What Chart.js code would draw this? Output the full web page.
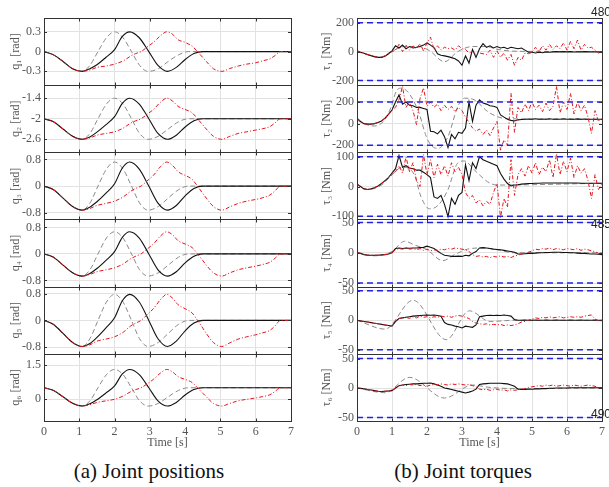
<!DOCTYPE html>
<html>
<head>
<meta charset="utf-8">
<script src="https://cdn.jsdelivr.net/npm/chart.js@4.4.0/dist/chart.umd.min.js"></script>
<style>
  html, body { margin: 0; padding: 0; background: #fff; overflow: hidden; width: 609px; height: 487px; }
  #wrap { position: relative; width: 609px; height: 487px; }
  canvas { position: absolute; top: 0; }
  #left { left: 0; }
  #right { left: 300px; }
  .cap { position: absolute; font-family: "Liberation Serif", serif; font-size: 21px; color: #111; white-space: nowrap; transform: translateX(-50%); }
  .ln { position: absolute; left: 591px; font-family: "Liberation Sans", sans-serif; font-size: 12px; line-height: 12px; color: #222; }
</style>
</head>
<body>
<div id="wrap">
  <canvas id="left" width="300" height="451"></canvas>
  <canvas id="right" width="309" height="451"></canvas>
  <div class="cap" style="left:149px; top:459px">(a) Joint positions</div>
  <div class="cap" style="left:463px; top:459px">(b) Joint torques</div>
  <div class="ln" style="top:6px">480</div>
  <div class="ln" style="top:218px">485</div>
  <div class="ln" style="top:408px">490</div>
</div>
<script>
// ---- joint positions (left column) ----
const qGrayTime = [0, 0.27, 0.54, 0.81, 1.08, 1.3, 1.53, 1.77, 2.0, 2.24, 2.48, 2.71, 2.95, 3.24, 3.52, 3.81, 4.1, 7];
const qBlackTime = [0, 0.27, 0.54, 0.81, 1.08, 1.3, 1.5, 1.75, 2.0, 2.22, 2.43, 2.7, 2.97, 3.23, 3.5, 3.75, 4.0, 4.25, 4.5, 7];
const qRedTime = [0, 0.27, 0.54, 0.81, 1.08, 1.3, 1.5, 1.75, 2.0, 2.25, 2.45, 2.6, 2.75, 2.95, 3.1, 3.3, 3.48, 3.65, 3.8, 4.0,
  4.2, 4.35, 4.5, 4.6, 4.8, 5.04, 5.25, 5.5, 5.75, 6.0, 6.2, 6.4, 6.55, 6.7, 7];

const q1Gray = [0, -0.05, -0.15, -0.26, -0.3, -0.21, 0, 0.21, 0.3, 0.21, 0, -0.21, -0.3, -0.26, -0.15, -0.05, 0, 0];
const q1Black = [0, -0.05, -0.15, -0.26, -0.3, -0.26, -0.2, -0.09, 0.03, 0.23, 0.3, 0.21, 0, -0.21, -0.3, -0.24, -0.12, -0.03, 0, 0];
const q1Red = [0, -0.05, -0.15, -0.26, -0.3, -0.28, -0.24, -0.22, -0.19, -0.14, -0.07, -0.03, 0, 0.08, 0.14, 0.24, 0.3, 0.26, 0.18, 0.14,
  0.08, 0, -0.09, -0.15, -0.26, -0.3, -0.26, -0.22, -0.19, -0.17, -0.14, -0.11, -0.06, 0, 0];

const q2Gray = [-2, -2.09, -2.3, -2.51, -2.6, -2.43, -2, -1.57, -1.4, -1.57, -2, -2.43, -2.6, -2.51, -2.3, -2.09, -2, -2];
const q2Black = [-2, -2.09, -2.3, -2.51, -2.6, -2.53, -2.39, -2.18, -1.94, -1.55, -1.4, -1.57, -2, -2.43, -2.6, -2.48, -2.24, -2.06, -2, -2];
const q2Red = [-2, -2.09, -2.3, -2.51, -2.6, -2.56, -2.48, -2.43, -2.38, -2.27, -2.13, -2.06, -2, -1.85, -1.73, -1.52, -1.4, -1.49, -1.64, -1.73,
  -1.83, -2, -2.18, -2.3, -2.51, -2.6, -2.52, -2.43, -2.38, -2.33, -2.29, -2.23, -2.12, -2, -2];

const q3Gray = [0, -0.11, -0.36, -0.61, -0.72, -0.51, 0, 0.51, 0.72, 0.51, 0, -0.51, -0.72, -0.61, -0.36, -0.11, 0, 0];
const q3Black = [0, -0.11, -0.36, -0.61, -0.72, -0.63, -0.47, -0.22, 0.07, 0.54, 0.72, 0.51, 0, -0.51, -0.72, -0.58, -0.29, -0.07, 0, 0];
const q3Red = [0, -0.11, -0.36, -0.61, -0.72, -0.67, -0.58, -0.52, -0.45, -0.32, -0.16, -0.07, 0, 0.18, 0.32, 0.58, 0.72, 0.61, 0.43, 0.32,
  0.2, 0, -0.22, -0.36, -0.61, -0.72, -0.63, -0.52, -0.45, -0.4, -0.35, -0.27, -0.14, 0, 0];

const q4Gray = [0, -0.1, -0.34, -0.57, -0.67, -0.48, 0, 0.48, 0.67, 0.48, 0, -0.48, -0.67, -0.57, -0.34, -0.1, 0, 0];
const q4Black = [0, -0.1, -0.34, -0.57, -0.67, -0.59, -0.44, -0.2, 0.07, 0.5, 0.67, 0.48, 0, -0.48, -0.67, -0.54, -0.27, -0.07, 0, 0];
const q4Red = [0, -0.1, -0.34, -0.57, -0.67, -0.62, -0.54, -0.48, -0.42, -0.3, -0.15, -0.07, 0, 0.17, 0.3, 0.54, 0.67, 0.57, 0.4, 0.3,
  0.19, 0, -0.2, -0.34, -0.57, -0.67, -0.58, -0.48, -0.42, -0.37, -0.32, -0.25, -0.13, 0, 0];

const q5Gray = [0, -0.12, -0.39, -0.66, -0.78, -0.55, 0, 0.55, 0.78, 0.55, 0, -0.55, -0.78, -0.66, -0.39, -0.12, 0, 0];
const q5Black = [0, -0.12, -0.39, -0.66, -0.78, -0.69, -0.51, -0.23, 0.08, 0.59, 0.78, 0.55, 0, -0.55, -0.78, -0.62, -0.31, -0.08, 0, 0];
const q5Red = [0, -0.12, -0.39, -0.66, -0.78, -0.73, -0.62, -0.56, -0.49, -0.35, -0.17, -0.08, 0, 0.2, 0.35, 0.62, 0.78, 0.66, 0.47, 0.35,
  0.22, 0, -0.23, -0.39, -0.66, -0.78, -0.68, -0.56, -0.49, -0.43, -0.37, -0.3, -0.16, 0, 0];

const q6Gray = [0.5, 0.38, 0.1, -0.19, -0.31, -0.08, 0.5, 1.08, 1.31, 1.08, 0.5, -0.08, -0.31, -0.19, 0.1, 0.38, 0.5, 0.5];
const q6Black = [0.5, 0.38, 0.1, -0.19, -0.31, -0.21, -0.03, 0.26, 0.58, 1.11, 1.31, 1.08, 0.5, -0.08, -0.31, -0.15, 0.18, 0.42, 0.5, 0.5];
const q6Red = [0.5, 0.38, 0.1, -0.19, -0.31, -0.25, -0.15, -0.08, -0.01, 0.14, 0.32, 0.42, 0.5, 0.7, 0.87, 1.15, 1.31, 1.19, 0.99, 0.87,
  0.73, 0.5, 0.26, 0.1, -0.19, -0.31, -0.2, -0.08, -0.01, 0.05, 0.11, 0.19, 0.34, 0.5, 0.5];

const qLabels = ["q\u2081 [rad]", "q\u2082 [rad]", "q\u2083 [rad]", "q\u2084 [rad]", "q\u2085 [rad]", "q\u2086 [rad]"];
const qTicks = [[-0.3, 0, 0.3], [-2.6, -2, -1.4], [-0.8, 0, 0.8], [-0.8, 0, 0.8], [-0.8, 0, 0.8], [0, 1.5]];
const qRanges = [[-0.51, 0.51], [-2.98, -1.02], [-1, 1.01], [-0.99, 1.04], [-1, 1.01], [-0.97, 2]];

// ---- joint torques (right column) ----
const tauTime = [0, 0.1, 0.2, 0.3, 0.4, 0.5, 0.6, 0.7, 0.8, 0.9,
  1, 1.1, 1.2, 1.3, 1.4, 1.5, 1.6, 1.7, 1.8, 1.9,
  2, 2.1, 2.2, 2.3, 2.4, 2.5, 2.6, 2.7, 2.8, 2.9,
  3, 3.1, 3.2, 3.3, 3.4, 3.5, 3.6, 3.7, 3.8, 3.9,
  4, 4.1, 4.2, 4.3, 4.4, 4.5, 4.6, 4.7, 4.8, 4.9,
  5, 5.1, 5.2, 5.3, 5.4, 5.5, 5.6, 5.7, 5.8, 5.9,
  6, 6.1, 6.2, 6.3, 6.4, 6.5, 6.6, 6.7, 6.8, 6.9, 7];

const tau1Black = [5, -5, -12, -20, -28, -35, -40, -40, -32, -15,
  5, 40, 25, 45, 20, 35, 25, 30, 35, 45,
  60, 45, 28, -15, -25, -30, -35, -42, -50, -65,
  -95, -30, -80, 15, -40, 20, 55, 30, 40, 25,
  35, 25, 30, 20, 30, 25, 20, 25, 10, -5,
  -5, -10, -5, -8, -3, -5, -2, 0, -2, 0,
  -2, 0, -3, -1, -2, 0, -2, -1, -3, -2, -3];
const tau1Red = [5, -5, -12, -20, -28, -35, -40, -40, -30, -15,
  0, 10, 50, 0, 45, 10, 40, 20, 55, 5,
  60, 100, 15, 40, 10, 30, 20, 25, 10, 40,
  20, 15, -10, 0, -20, -10, -15, -20, 10, -40,
  5, -40, -10, -60, -20, -95, -40, -60, -10, -15,
  -5, 30, 0, 40, 10, 50, 15, 40, 20, 60,
  10, 70, 20, 80, 10, 50, 25, 30, 10, -10, 0];
const tau1GrayTime = [0, 0.65, 0.98, 1.36, 1.74, 2.05, 2.5, 2.88, 3.3, 3.7, 4.0, 4.6, 7];
const tau1Gray = [0, -40, 0, 35, 35, 10, -70, 0, 35, 35, 16, 2, 0];

const tau2Black = [50, 20, 0, -5, -5, 0, 10, 25, 50, 85,
  125, 200, 265, 180, 200, 170, 165, 150, 150, 140,
  130, -70, -75, -95, -60, -120, -220, -100, -140, -80,
  -90, -40, 200, 20, 170, 220, 190, 180, 165, 160,
  150, 80, 60, 40, 30, 25, 35, 38, 40, 42,
  40, 45, 40, 42, 40, 45, 40, 43, 40, 45,
  40, 42, 40, 44, 40, 42, 40, 40, 40, 40, 40];
const tau2Red = [50, 20, 0, -5, -5, 0, 10, 25, 50, 85,
  125, 150, 220, 344, 150, 200, 120, -10, 230, 330,
  160, 200, 150, 180, 120, 170, 130, 160, 110, 150,
  120, 60, 10, -40, -70, -50, -100, -60, -110, -40,
  20, -245, -150, -200, 280, -80, 150, 100, 180, 120,
  200, 130, 170, 110, 190, 120, 160, 344, 100, 200,
  130, 280, 90, 200, 120, 170, 60, -90, 120, 20, 50];
const tau2GrayTime = [0, 0.3, 0.5, 0.79, 0.98, 1.12, 1.27, 1.74, 1.98, 2.12, 2.31, 2.6, 2.88, 3.07, 3.35, 3.73, 4.0, 4.3, 7];
const tau2Gray = [34, -12, -22, 34, 158, 298, 328, 127, -120, -200, -229, -120, 158, 235, 220, 112, 65, 45, 40];

const tau3Black = [8, 0, -8, -10, -8, -4, 2, 10, 20, 30,
  45, 60, 104, 65, 70, 62, 60, 55, 55, 48,
  40, 30, -35, -40, -30, -60, -101, -40, -60, -30,
  -20, 73, 20, 80, 60, 101, 90, 85, 80, 75,
  70, 44, 25, 10, 2, 5, 6, 8, 9, 10,
  10, 11, 11, 12, 12, 12, 12, 12, 12, 12,
  12, 12, 12, 12, 11, 11, 11, 11, 11, 11, 11];
const tau3Red = [8, 0, -8, -10, -8, -4, 2, 10, 20, 30,
  45, 50, 70, 45, 100, 50, 80, 20, 0, 107,
  40, 90, 30, 75, 40, 70, 35, 80, 50, 65,
  40, -20, -40, -30, -55, -45, -65, -50, -60, -20,
  10, -104, -40, -70, 90, -30, 40, 60, 35, 70,
  45, 80, 40, 65, 50, 90, 30, 110, 40, 85,
  50, 95, 30, 70, 45, 60, 20, -40, 40, -10, 10];
const tau3GrayTime = [0, 0.3, 0.7, 0.9, 1.3, 1.64, 1.83, 2.07, 2.31, 2.59, 2.88, 3.07, 3.35, 3.73, 4.0, 7];
const tau3Gray = [8, -10, 5, 27, 65, 39, -35, -75, -64, -13, 79, 86, 56, 16, 5, 11];

const tau4Black = [0, -1, -3, -4, -4, -4, -4, -3.5, -3, -2,
  0, 7, 8, 7, 8, 7.5, 8, 8, 8.5, 9,
  11, 9, 7, 3, -1, -4, -5, -6, -6, -5.5,
  -6, -4, -5, -1, 2, 8, 8.5, 8, 7, 6,
  5.5, 5, 4, 3, 2, 1, -2, -2, -1.5, -1,
  -1, -0.5, 0, 0, 0.5, 0.5, 1, 1, 1, 0.5,
  0.5, 0, 0, -0.5, -1, -1, -1.5, -2, -2, -2.5, -3];
const tau4Red = [0, -1, -3, -4, -4, -4, -4, -3.5, -3, -2,
  0, 5, 7, 6, 8, 6, 7, 5, 7, 4,
  6, 3, 5, 4, 6, 5, 7, 6, 8, 7,
  6, 5, 2, -3, -6, -5, -7, -6, -8, -6,
  -7, -5, -7, -6, -8, -5, -4, -2, -1, 1,
  3, 6, 5, 7, 6, 8, 5, 7, 6, 5,
  7, 6, 5, 7, 4, 6, 5, 3, 2, -1, -2];
const tau4GrayTime = [0, 0.5, 1.0, 1.36, 1.64, 2.0, 2.45, 2.79, 3.16, 3.6, 4.0, 4.5, 7];
const tau4Gray = [0, -5, 2, 19, 13, 5, -13, -3, 6, 8, 5, 0, 0];

const tau5Black = [0, -1, -2, -3, -4, -5, -6, -7, -8, -9,
  -10, -2, 3, 4, 5, 6, 7, 7.5, 8, 8.5,
  9, 8.5, 9, 8, 7, -4, -7, -8, -10, -11,
  -13, -10, -11, -12, -8, 6, 7, 8, 8.5, 8,
  8.5, 8, 9, 8, 7, 1, 0, 0, 0.5, 0,
  0, 0.5, 0, 0, 0.5, 0, 0, 0.5, 0, 0,
  0, 0.5, 0, 0, 0.5, 0, 0, 0, 0.5, 0, 0];
const tau5Red = [0, -1, -2, -3, -4, -5, -6, -7, -8, -9,
  -10, -3, 3, 4, 5, 3, 6, 4, 7, 5,
  6, 4, 6, 5, 7, 6, 7, 5, 7, 8,
  7, 5, 3, -2, -5, -6, -7, -6, -8, -7,
  -8, -7, -9, -8, -9, -8, -6, -3, -2, 0,
  2, 4, 3, 5, 4, 6, 4, 5, 6, 4,
  5, 6, 5, 6, 5, 7, 8, 9, 2, -1, -1];
const tau5GrayTime = [0, 0.8, 1.6, 2.55, 3.21, 3.8, 4.5, 7];
const tau5Gray = [0, -15, 34, -33, 16, -2, 0, 0];

const tau6Black = [0, -0.5, -1.5, -2.5, -3.5, -4.5, -5.5, -6, -5.5, -5,
  -4.5, 0, 4, 5, 6, 6.5, 7, 7, 7.5, 8,
  8, 8.5, 7, 5, 3, 0, -1, -2.5, -4, -5.5,
  -7, -8.5, -7, -5, -2, 6, 7, 7.5, 8, 8,
  8, 8, 7.5, 7, 5, 3, -2, -2.5, -2.5, -2,
  -2, -1.5, -1.5, -1, -1, -0.5, -0.5, 0, 0, 0,
  0, 0.5, 0.5, 0.5, 0.5, 0.5, 0.5, 0.5, 0.5, 0.5, 0.5];
const tau6Red = [0, -0.5, -1.5, -2.5, -3.5, -4.5, -5.5, -6, -5.5, -5,
  -4.5, 0, 3, 5, 4, 6, 5, 6, 4, 5,
  3, 5, 6, 5, 7, 6, 5, 7, 6, 7,
  6, 5, 6, 4, 2, -2, -3, -2, -4, -3,
  -2, -4, -3, -5, -3, -4, -3, -2, -1, 1,
  2, 3, 4, 3, 5, 4, 5, 3, 4, 5,
  4, 3, 5, 4, 3, 4, 5, 4, 3, 0, 0];
const tau6GrayTime = [0, 0.8, 1.5, 2.5, 3.3, 3.8, 4.6, 7];
const tau6Gray = [0, -8, 18, -17, 5, 1, -1, 0];

const tauLimits = [200, 200, 100, 50, 50, 50];
const tauLabels = ["\u03c4\u2081 [Nm]", "\u03c4\u2082 [Nm]", "\u03c4\u2083 [Nm]", "\u03c4\u2084 [Nm]", "\u03c4\u2085 [Nm]", "\u03c4\u2086 [Nm]"];
const tauTicks = [[-200, 0, 200], [-200, 0, 200], [-100, 0, 100], [-50, 0, 50], [-50, 0, 50], [-50, 0, 50]];
const tauRanges = [[-233, 233], [-265, 355], [-111, 115], [-56, 55], [-57, 57], [-56, 58]];

const timeTicks = [0, 1, 2, 3, 4, 5, 6, 7];

// ---- helpers ----
const serif = "'Liberation Serif', 'Times New Roman', serif";
const txt = "#555";

function pts(ts, vs) {
  return ts.map((t, i) => ({ x: t, y: vs[i] }));
}

function redSet(data, axis, smooth) {
  return { data: data, yAxisID: axis, borderColor: "#e3161d", borderWidth: 1, borderDash: [4, 2, 1, 2],
    cubicInterpolationMode: smooth ? "monotone" : "default", tension: 0 };
}
function blackSet(data, axis, smooth) {
  return { data: data, yAxisID: axis, borderColor: "#111", borderWidth: 1.1,
    cubicInterpolationMode: smooth ? "monotone" : "default", tension: 0 };
}
function graySet(data, axis) {
  return { data: data, yAxisID: axis, borderColor: "#8a8a8a", borderWidth: 1, borderDash: [5, 3],
    cubicInterpolationMode: "monotone" };
}
function limitSet(v, axis) {
  return { data: pts([0, 7], [v, v]), yAxisID: axis, borderColor: "#2323e6", borderWidth: 1.5, borderDash: [6, 4] };
}

function yAxis(i, rng, ticks, label, w, titlePad) {
  return {
    type: "linear", position: "left", stack: "col", stackWeight: 1, weight: 6 - i,
    min: rng[0], max: rng[1],
    afterBuildTicks: s => { s.ticks = ticks.map(v => ({ value: v })); },
    afterFit: s => { s.width = w; },
    grid: { color: "#e2e2e2", drawTicks: false },
    border: { display: false },
    ticks: { font: { family: serif, size: 12 }, color: txt, padding: 3, callback: v => String(v) },
    title: { display: true, text: label, font: { family: serif, size: 12 }, color: txt, padding: titlePad }
  };
}

function xAxis() {
  return {
    type: "linear", min: 0, max: 7,
    afterBuildTicks: s => { s.ticks = timeTicks.map(v => ({ value: v })); },
    afterFit: s => { s.height = 30; },
    grid: { color: "#e2e2e2", drawTicks: false },
    border: { display: false },
    ticks: { font: { family: serif, size: 12 }, color: txt, padding: 4 },
    title: { display: true, text: "Time [s]", font: { family: serif, size: 12 }, color: txt, padding: { top: 0, bottom: 1 } }
  };
}

// draws the box around each subplot and the small inward tick marks
const panelBox = {
  id: "panelBox",
  afterDraw(chart) {
    const ctx = chart.ctx;
    const a = chart.chartArea;
    const xs = chart.scales.x;
    ctx.save();
    ctx.strokeStyle = "#333";
    ctx.lineWidth = 1;
    Object.values(chart.scales).forEach(s => {
      if (s.axis !== "y") return;
      const top = Math.round(s.top) + 0.5;
      const bot = Math.round(s.bottom) + 0.5;
      ctx.strokeRect(Math.round(a.left) + 0.5, top, Math.round(a.right - a.left), bot - top);
      ctx.beginPath();
      timeTicks.forEach(t => {
        const px = Math.round(xs.getPixelForValue(t)) + 0.5;
        ctx.moveTo(px, top); ctx.lineTo(px, top + 3);
        ctx.moveTo(px, bot); ctx.lineTo(px, bot - 3);
      });
      s.ticks.forEach(tk => {
        const py = Math.round(s.getPixelForValue(tk.value)) + 0.5;
        ctx.moveTo(a.left, py); ctx.lineTo(a.left + 3, py);
        ctx.moveTo(a.right, py); ctx.lineTo(a.right - 3, py);
      });
      ctx.stroke();
    });
    ctx.restore();
  }
};

function makeChart(id, datasets, scales, padding) {
  return new Chart(document.getElementById(id), {
    type: "line",
    data: { datasets: datasets },
    options: {
      responsive: false,
      animation: false,
      layout: { padding: padding },
      elements: { point: { radius: 0 }, line: { fill: false } },
      plugins: { legend: { display: false }, tooltip: { enabled: false } },
      scales: scales
    },
    plugins: [panelBox]
  });
}

// ---- left chart ----
const qSeries = [
  [q1Gray, q1Black, q1Red], [q2Gray, q2Black, q2Red], [q3Gray, q3Black, q3Red],
  [q4Gray, q4Black, q4Red], [q5Gray, q5Black, q5Red], [q6Gray, q6Black, q6Red]
];
const leftSets = [];
const leftScales = { x: xAxis() };
qSeries.forEach((s, i) => {
  const id = "y" + i;
  leftSets.push(redSet(pts(qRedTime, s[2]), id, true));
  leftSets.push(blackSet(pts(qBlackTime, s[1]), id, true));
  leftSets.push(graySet(pts(qGrayTime, s[0]), id));
  leftScales[id] = yAxis(i, qRanges[i], qTicks[i], qLabels[i], 44, { top: 9, bottom: 0 });
});
makeChart("left", leftSets, leftScales, { top: 18, right: 9, left: 0, bottom: 0 });

// ---- right chart ----
const tauSeries = [
  [tau1GrayTime, tau1Gray, tau1Black, tau1Red], [tau2GrayTime, tau2Gray, tau2Black, tau2Red],
  [tau3GrayTime, tau3Gray, tau3Black, tau3Red], [tau4GrayTime, tau4Gray, tau4Black, tau4Red],
  [tau5GrayTime, tau5Gray, tau5Black, tau5Red], [tau6GrayTime, tau6Gray, tau6Black, tau6Red]
];
const rightSets = [];
const rightScales = { x: xAxis() };
tauSeries.forEach((s, i) => {
  const id = "y" + i;
  rightSets.push(limitSet(tauLimits[i], id));
  rightSets.push(limitSet(-tauLimits[i], id));
  rightSets.push(redSet(pts(tauTime, s[3]), id, false));
  rightSets.push(blackSet(pts(tauTime, s[2]), id, false));
  rightSets.push(graySet(pts(s[0], s[1]), id));
  rightScales[id] = yAxis(i, tauRanges[i], tauTicks[i], tauLabels[i], 57, { top: 20, bottom: 0 });
});
makeChart("right", rightSets, rightScales, { top: 18, right: 6, left: 0, bottom: 0 });
</script>
</body>
</html>
